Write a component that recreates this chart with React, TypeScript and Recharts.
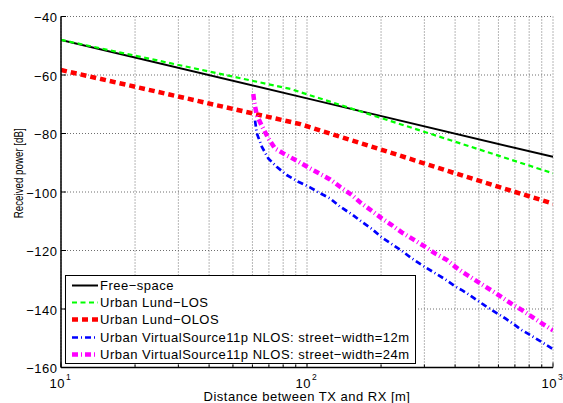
import React from 'react';
import { LineChart, Line, XAxis, YAxis, CartesianGrid, Legend } from 'recharts';

const FONT = '"Liberation Sans", Arial, Helvetica, sans-serif';

// Distance between TX and RX (m) and received power (dB) for each model
const freeSpaceDist = [10, 100, 1000];
const freeSpacePower = [-48, -68, -88];

const losDist = [10, 20, 40, 86, 100, 200, 400, 1000];
const losPower = [-48, -53.4, -58.8, -64.8, -66.6, -74.7, -82.8, -93.6];

const olosDist = [10, 20, 50, 94, 200, 400, 1000];
const olosPower = [-58.3, -64.0, -71.6, -76.8, -85.5, -93.6, -104];

const nlos12Dist = [61.5, 62.5, 65.5, 69.6, 75.3, 82.7, 92.2, 102.8, 112.9, 124.1, 136.2, 152, 167, 183.2, 201.3, 221, 242.7, 266.5, 297, 363.9, 402.3, 429.6, 474.2, 525.7, 577.3, 642.3, 700.8, 746.1, 819.3, 908, 1000];
const nlos12Power = [-75.6, -79.9, -84.5, -88.5, -91.4, -94.2, -96.5, -98.4, -100.4, -102.2, -105.0, -107.6, -110.2, -112.6, -115.5, -117.8, -120.1, -122.7, -125.3, -129.8, -132.4, -133.7, -136.1, -138.7, -140.9, -143.3, -145.5, -147.2, -149.2, -151.5, -153.7];

const nlos24Dist = [60.5, 61.1, 62.5, 65.5, 69.6, 74.1, 80.1, 92.2, 102.8, 112.9, 124.1, 136.2, 152, 165.4, 183.2, 201.3, 221, 242.7, 270.4, 301.8, 331.4, 369.8, 399.6, 429.6, 474.2, 525.7, 581, 642.3, 700.8, 746.1, 819.3, 908, 1000];
const nlos24Power = [-66.5, -69.5, -73.7, -77.4, -81.6, -85.1, -86.8, -89.6, -91.9, -93.8, -95.7, -98.2, -101.0, -103.7, -106.4, -109.0, -111.3, -113.8, -116.2, -118.7, -121.0, -123.2, -125.5, -127.4, -129.7, -132.1, -134.4, -136.9, -139.0, -140.3, -142.6, -145.1, -147.3];

// Axis ticks
const xTicks = [10, 20, 30, 40, 50, 60, 70, 80, 90, 100, 200, 300, 400, 500, 600, 700, 800, 900, 1000];
const decadeTicks = [10, 100, 1000];
const decadeExponents = ['1', '2', '3'];
const yTicks = [-160, -140, -120, -100, -80, -60, -40];

const toRows = (dist: number[], power: number[]) => dist.map((d, i) => ({ d, p: power[i] }));

const series = [
  { name: 'Free\u2212space', data: toRows(freeSpaceDist, freeSpacePower), color: '#000000', width: 2, dash: undefined as string | undefined },
  { name: 'Urban Lund\u2212LOS', data: toRows(losDist, losPower), color: '#00ff00', width: 2.2, dash: '5 3.5' },
  { name: 'Urban Lund\u2212OLOS', data: toRows(olosDist, olosPower), color: '#ff0000', width: 4.5, dash: '6 4' },
  { name: 'Urban VirtualSource11p NLOS: street\u2212width=12m', data: toRows(nlos12Dist, nlos12Power), color: '#0000ff', width: 2.7, dash: '6 3 1 3' },
  { name: 'Urban VirtualSource11p NLOS: street\u2212width=24m', data: toRows(nlos24Dist, nlos24Power), color: '#ff00ff', width: 4.5, dash: '6 3 1 3' },
];

const textStyle = { fontFamily: FONT, fontSize: 13, letterSpacing: 0.5, fill: '#000' };

const BottomTick = (props: any) => {
  const { x, y, payload } = props;
  const k = decadeTicks.indexOf(payload.value);
  const major = k >= 0;
  return (
    <g>
      <line x1={x} x2={x} y1={y} y2={y - (major ? 5 : 3)} stroke="#000" strokeWidth={1} />
      {major && (
        <g>
          <text x={x + 4} y={y + 20} textAnchor="end" style={textStyle}>10</text>
          <text x={x + 5} y={y + 12} textAnchor="start" style={{ ...textStyle, fontSize: 8.5, letterSpacing: 0 }}>{decadeExponents[k]}</text>
        </g>
      )}
    </g>
  );
};

const TopTick = (props: any) => {
  const { x, y, payload } = props;
  const major = decadeTicks.indexOf(payload.value) >= 0;
  return <line x1={x} x2={x} y1={y} y2={y + (major ? 5 : 3)} stroke="#000" strokeWidth={1} />;
};

const LeftTick = (props: any) => {
  const { x, y, payload } = props;
  const v = payload.value as number;
  const label = v < 0 ? `\u2212${Math.abs(v)}` : `${v}`;
  return (
    <g>
      <line x1={x} x2={x + 5} y1={y} y2={y} stroke="#000" strokeWidth={1} />
      <text x={x - 3.5} y={y + 5.8} textAnchor="end" style={textStyle}>{label}</text>
    </g>
  );
};

const RightTick = (props: any) => {
  const { x, y } = props;
  return <line x1={x} x2={x - 5} y1={y} y2={y} stroke="#000" strokeWidth={1} />;
};

const LegendBox = () => (
  <div
    style={{
      position: 'relative',
      boxSizing: 'border-box',
      width: 351,
      height: 88.5,
      border: '1.4px solid #000',
      background: '#fff',
      fontFamily: FONT,
    }}
  >
    {series.map((s, i) => (
      <div
        key={s.name}
        style={{
          position: 'absolute',
          left: 0,
          top: 1.2 + i * 17.1,
          height: 17,
          width: '100%',
          display: 'flex',
          alignItems: 'center',
        }}
      >
        <svg width={28} height={17} style={{ position: 'absolute', left: 5, top: 0 }}>
          <line x1={1} x2={27} y1={8.5} y2={8.5} stroke={s.color} strokeWidth={s.width} strokeDasharray={s.dash} />
        </svg>
        <span
          style={{
            position: 'absolute',
            left: 34,
            top: 0,
            lineHeight: '17px',
            fontSize: 13,
            letterSpacing: 0.5,
            whiteSpace: 'nowrap',
            color: '#000',
          }}
        >
          {s.name}
        </span>
      </div>
    ))}
  </div>
);

const XTitle = (props: any) => {
  const vb = props.viewBox || {};
  const cx = vb.x + vb.width / 2;
  return (
    <text x={cx} y={401} textAnchor="middle" style={textStyle}>
      Distance between TX and RX [m]
    </text>
  );
};

const YTitle = () => (
  <text
    x={0}
    y={0}
    transform="translate(22.5,173.3) rotate(-90)"
    textAnchor="middle"
    textLength={90}
    lengthAdjust="spacingAndGlyphs"
    style={{ fontFamily: FONT, fontSize: 12, fill: '#000' }}
  >
    Received power [dB]
  </text>
);

const axisLine = { stroke: '#000', strokeWidth: 1.5 };

export default function App() {
  return (
    <div style={{ width: 563, height: 403, overflow: 'hidden', background: '#fff' }}>
      <style>{'body{margin:0;background:#fff;}'}</style>
      <LineChart width={563} height={403} margin={{ top: 16.5, right: 10, bottom: 0, left: 0 }}>
        <CartesianGrid
          xAxisId="b"
          yAxisId="l"
          stroke="#6e6e6e"
          strokeWidth={1}
          strokeDasharray="1 2"
          fill="none"
        />
        <XAxis
          xAxisId="b"
          type="number"
          dataKey="d"
          scale="log"
          domain={[10, 1000]}
          ticks={xTicks}
          interval={0}
          allowDataOverflow
          height={35.5}
          tickSize={0}
          tickMargin={0}
          tickLine={false}
          axisLine={axisLine}
          tick={BottomTick}
          label={<XTitle />}
        />
        <XAxis
          xAxisId="t"
          orientation="top"
          type="number"
          dataKey="d"
          scale="log"
          domain={[10, 1000]}
          ticks={xTicks}
          interval={0}
          allowDataOverflow
          height={0}
          tickSize={0}
          tickMargin={0}
          tickLine={false}
          axisLine={axisLine}
          tick={TopTick}
        />
        <YAxis
          yAxisId="l"
          type="number"
          domain={[-160, -40]}
          ticks={yTicks}
          interval={0}
          allowDataOverflow
          width={61}
          tickSize={0}
          tickMargin={0}
          tickLine={false}
          axisLine={axisLine}
          tick={LeftTick}
          label={<YTitle />}
        />
        <YAxis
          yAxisId="r"
          orientation="right"
          type="number"
          domain={[-160, -40]}
          ticks={yTicks}
          interval={0}
          allowDataOverflow
          width={0}
          tickSize={0}
          tickMargin={0}
          tickLine={false}
          axisLine={axisLine}
          tick={RightTick}
        />
        {series.map((s) => (
          <Line
            key={s.name}
            xAxisId="b"
            yAxisId="l"
            data={s.data}
            dataKey="p"
            name={s.name}
            type="linear"
            stroke={s.color}
            strokeWidth={s.width}
            strokeDasharray={s.dash}
            dot={false}
            activeDot={false}
            isAnimationActive={false}
          />
        ))}
        <Legend
          layout="vertical"
          align="center"
          verticalAlign="middle"
          wrapperStyle={{ left: 65, top: 275, width: 351, height: 88.5 }}
          content={() => <LegendBox />}
        />
      </LineChart>
    </div>
  );
}
